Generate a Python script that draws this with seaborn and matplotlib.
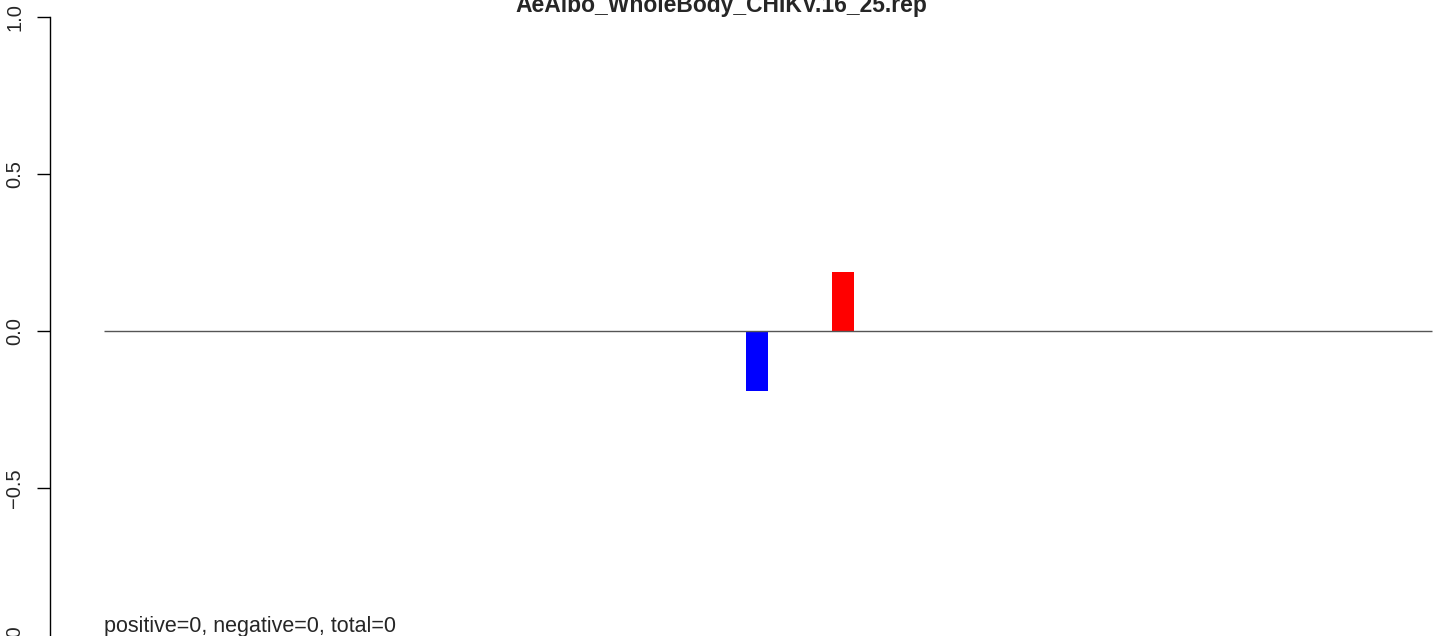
import numpy as np
import pandas as pd
import matplotlib
matplotlib.use("Agg")
import matplotlib.pyplot as plt
import seaborn as sns

# ---- data ----
title = "AeAlbo_WholeBody_CHIKV.16_25.rep"
positions = [-0.5, 3.4]          # bar centres
values = [-0.19, 0.19]           # bar heights
strand = ["minus", "plus"]
strand_colors = {"minus": "#0000FF", "plus": "#FF0000"}
baseline_start, baseline_end = -30, 30
y_ticks = [-1.0, -0.5, 0.0, 0.5, 1.0]
summary = "positive=0, negative=0, total=0"

df = pd.DataFrame({"pos": positions, "value": values, "strand": strand})

sns.set_style("white")
plt.rcParams["font.family"] = ["Liberation Sans", "DejaVu Sans"]

W, H = 1433, 636
fig = plt.figure(figsize=(W / 100, H / 100), dpi=100)
ax = fig.add_axes([50 / W, (H - 670.4) / H, 1343 / W, 678.2 / H])

bar_width = 1.0
rel_width = bar_width / np.min(np.diff(sorted(positions)))
sns.barplot(data=df, x="pos", y="value", hue="strand", palette=strand_colors,
            native_scale=True, width=rel_width, dodge=False, errorbar=None,
            legend=False, linewidth=0, saturation=1, ax=ax)

# zero line (runs past the plot region, as in the original)
ax.hlines(0, baseline_start, baseline_end, colors="#555555", lw=1.0,
          clip_on=False, zorder=3)

ax.set_xlim(-32.44, 28.24)
ax.set_ylim(-1.08, 1.08)
ax.set_xlabel("")
ax.set_ylabel("")
ax.set_xticks([])
ax.set_yticks(y_ticks)

for s in ["top", "right", "bottom"]:
    ax.spines[s].set_visible(False)
ax.spines["left"].set_bounds(-1, 1)
ax.spines["left"].set_color("black")
ax.spines["left"].set_linewidth(1.0)

ax.tick_params(axis="y", left=True, length=9.4, width=1.0, color="black",
               pad=9, labelsize=14.5, labelrotation=90, direction="out")
for lbl in ax.get_yticklabels():
    lbl.set_va("center")

fig.text((50 + 1343 / 2) / W, 1 - 12 / H, title, ha="center", va="baseline",
         fontsize=16.5, fontweight="bold")
ax.text(baseline_start, -0.958, summary, ha="left", va="baseline", fontsize=15.5)

fig.savefig("out.png", dpi=100)
